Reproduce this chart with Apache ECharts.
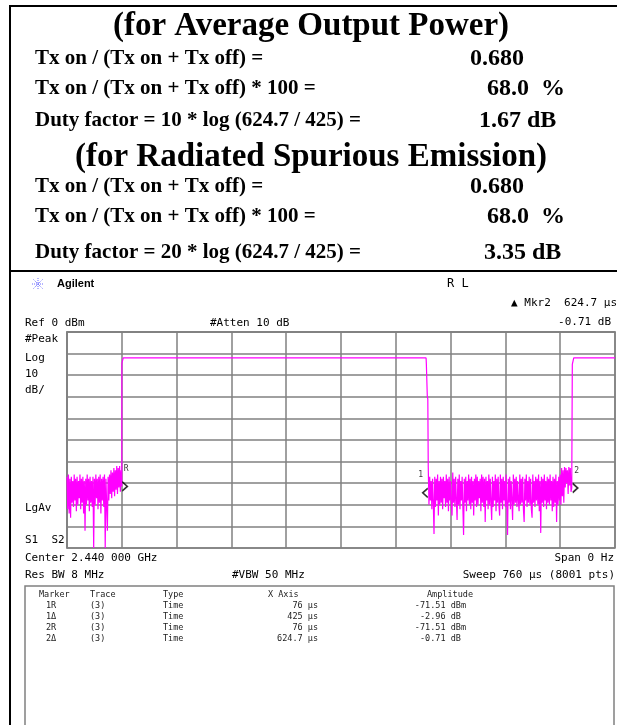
<!DOCTYPE html>
<html><head><meta charset="utf-8">
<script src="https://cdn.jsdelivr.net/npm/echarts@6/dist/echarts.min.js"></script>
<style>html,body{margin:0;padding:0;background:#fff}#c{width:617px;height:725px}</style>
</head><body><div id="c"></div>
<script>
// ---- axis settings (time sweep, log amplitude) ----
const sweepUs = [0, 760];          // x range, microseconds
const timeDivUs = 76;              // 10 divisions
const ampRange = [-100, 0];        // dBm, Ref 0 dBm, 10 dB/div
const ampDiv = 10;

// ---- trace: Tx off noise, first burst gap (0..76 us, 1 us steps), dBm ----
const offNoise1Start = 0;
const offNoise1 = [
  -67,-82,-66,-84,-68,-86,-67,-79,-69,-81,
  -66,-78,-68,-83,-67,-80,-69,-77,-66,-82,
  -68,-79,-67,-84,-69,-92,-68,-80,-66,-78,
  -68,-83,-67,-79,-69,-81,-67,-100,-68,-80,
  -66,-77,-68,-82,-67,-79,-66,-84,-68,-78,
  -67,-81,-66,-100,-68,-80,-92,-67,-78,-66,
  -75,-64,-77,-65,-74,-63,-76,-64,-73,-62,
  -75,-63,-72,-62,-74,-64,-71.5
];
// rising edge, Tx on plateau and falling edge [us, dBm]
const burstEdge1 = [
  [76.1,-14.5],[77.6,-14.3],[78,-12],[498,-12],[498.4,-15],[499.4,-15.5],[499.7,-30],[500.4,-31]
];
// ---- trace: Tx off noise, second gap (501..700 us, 1 us steps), dBm ----
const offNoise2Start = 501;
const offNoise2 = [
  -62.5,-80,-67,-78,-69,-82,-68,-79,-93.5,-67,
  -81,-68,-78,-66,-85,-69,-80,-67,-79,-68,
  -82,-67,-77,-69,-81,-66,-79,-68,-83,-67,
  -78,-69,-80,-85,-65,-79,-68,-81,-67,-78,
  -87,-68,-80,-66,-82,-69,-78,-67,-81,-94,
  -68,-79,-67,-83,-69,-78,-66,-80,-68,-82,
  -67,-79,-69,-85,-68,-78,-66,-81,-67,-80,
  -69,-77,-68,-83,-66,-79,-67,-81,-68,-88,
  -67,-78,-69,-82,-66,-80,-68,-79,-87,-67,
  -81,-69,-78,-66,-83,-68,-79,-67,-80,-85,
  -66,-79,-68,-82,-67,-78,-69,-81,-66,-80,
  -94,-68,-79,-67,-82,-69,-78,-87,-66,-80,
  -68,-79,-67,-81,-69,-78,-83,-66,-80,-68,
  -79,-67,-82,-88,-68,-78,-66,-81,-69,-79,
  -67,-80,-68,-82,-86,-66,-79,-69,-81,-67,
  -78,-68,-80,-66,-83,-69,-93,-67,-79,-68,
  -81,-66,-78,-69,-82,-67,-79,-68,-80,-66,
  -78,-69,-83,-67,-81,-68,-79,-66,-88,-69,
  -80,-67,-78,-66,-80,-63,-76,-64,-79,-62.5,
  -72,-63,-70,-64,-75,-62.5,-71,-63,-74,-72.2
];
// second rising edge and Tx on to end of sweep [us, dBm]
const burstEdge2 = [[700.8,-15],[702.4,-14.6],[702.8,-12],[760,-12]];

// ---- markers ----
const markerNames = ['R', '1', '2'];
const markerTimes = [76, 501, 700.7];
const markerLevels = [-71.51, -74.47, -72.22];
const markerDirs = ['right', 'left', 'right'];

// ---- marker table ----
const tableHeader = ['Marker', 'Trace', 'Type', 'X Axis', 'Amplitude'];
const tableMarker = ['1R', '1\u0394', '2R', '2\u0394'];
const tableTrace = ['(3)', '(3)', '(3)', '(3)'];
const tableType = ['Time', 'Time', 'Time', 'Time'];
const tableX = ['76 \u03bcs', '425 \u03bcs', '76 \u03bcs', '624.7 \u03bcs'];
const tableAmp = ['-71.51 dBm', '-2.96 dB ', '-71.51 dBm', '-0.71 dB '];

// ---- duty cycle text ----
const titles = ['(for Average Output Power)', '(for Radiated Spurious Emission)'];
const labelsA = ['Tx on / (Tx on + Tx off) =', 'Tx on / (Tx on + Tx off) * 100 =', 'Duty factor = 10 * log (624.7 / 425) ='];
const labelsB = ['Tx on / (Tx on + Tx off) =', 'Tx on / (Tx on + Tx off) * 100 =', 'Duty factor = 20 * log (624.7 / 425) ='];
const valuesA = ['0.680', '68.0  %', '1.67 dB'];
const valuesB = ['0.680', '68.0  %', '3.35 dB'];

// build trace
const trace = [];
offNoise1.forEach((v, i) => trace.push([offNoise1Start + i, v]));
burstEdge1.forEach(p => trace.push(p));
offNoise2.forEach((v, i) => trace.push([offNoise2Start + i, v]));
burstEdge2.forEach(p => trace.push(p));

const SERIF = '"Liberation Serif", "Times New Roman", serif';
const MONO = '"DejaVu Sans Mono", monospace';
function T(text, x, y, font, align, fill) {
  return { type: 'text', x: x, y: y, silent: true,
    style: { text: text, font: font, fill: fill || '#000',
      align: align || 'left', textAlign: align || 'left',
      verticalAlign: 'middle', textVerticalAlign: 'middle' } };
}
function L(x1, y1, x2, y2, w, c) {
  return { type: 'line', silent: true, shape: { x1, y1, x2, y2 }, style: { stroke: c || '#000', lineWidth: w } };
}

const g = [];
// frame
g.push(L(10, 6, 617, 6, 2));
g.push(L(10, 5, 10, 725, 2));
g.push(L(10, 271, 617, 271, 2));
// top text section
const titleFont = 'bold 33px ' + SERIF;
const labelFont = 'bold 21px ' + SERIF;
const valueFont = 'bold 24px ' + SERIF;
const secY = [[26, 59, 89, 121], [157, 187, 217, 253]];
[[titles[0], labelsA, valuesA], [titles[1], labelsB, valuesB]].forEach((sec, s) => {
  g.push(T(sec[0], 311, secY[s][0], titleFont, 'center'));
  sec[1].forEach((t, i) => g.push(T(t, 35, secY[s][i + 1], labelFont)));
  g.push(T(sec[2][0], 470, secY[s][1], valueFont));
  g.push(T(sec[2][1], 487, secY[s][2], valueFont));
  g.push(T(sec[2][2], s === 0 ? 479 : 484, secY[s][3], valueFont));
});
// Agilent logo star
const sx = 38, sy = 284;
[[-6,0,6,0],[0,-6,0,6],[-4.5,-4.5,4.5,4.5],[-4.5,4.5,4.5,-4.5]].forEach(a => {
  g.push({ type: 'line', silent: true, shape: { x1: sx + a[0], y1: sy + a[1], x2: sx + a[2], y2: sy + a[3] },
    style: { stroke: '#6a6aff', lineWidth: 1, lineDash: [1, 1] } });
});
g.push(T('Agilent', 57, 284, 'bold 11px "Liberation Sans", Arial, sans-serif'));
g.push(T('R L', 447, 284, '12px ' + MONO));
g.push(T('\u25B2 Mkr2  624.7 \u03bcs', 617, 303, '11px ' + MONO, 'right'));
g.push(T('-0.71 dB', 611, 322, '11px ' + MONO, 'right'));
g.push(T('Ref 0 dBm', 25, 323, '11px ' + MONO));
g.push(T('#Atten 10 dB', 210, 323, '11px ' + MONO));
['#Peak', 'Log', '10', 'dB/'].forEach((t, i) => g.push(T(t, 25, [339, 358, 374, 390][i], '11px ' + MONO)));
g.push(T('LgAv', 25, 508, '11px ' + MONO));
g.push(T('S1  S2', 25, 540, '11px ' + MONO));
g.push(T('Center 2.440 000 GHz', 25, 558, '11px ' + MONO));
g.push(T('Span 0 Hz', 614, 558, '11px ' + MONO, 'right'));
g.push(T('Res BW 8 MHz', 25, 575, '11px ' + MONO));
g.push(T('#VBW 50 MHz', 232, 575, '11px ' + MONO));
g.push(T('Sweep 760 \u03bcs (8001 pts)', 615, 575, '11px ' + MONO, 'right'));
// marker table
g.push({ type: 'rect', silent: true, shape: { x: 25, y: 586, width: 589, height: 160 },
  style: { fill: 'none', stroke: '#808080', lineWidth: 1.5 } });
const tf = '8.5px ' + MONO, tc = '#222';
const hx = [39, 90, 163, 268, 427];
tableHeader.forEach((t, i) => g.push(T(t, hx[i], 595, tf, 'left', tc)));
const rowY = [606, 617, 628, 639];
for (let r = 0; r < 4; r++) {
  g.push(T(tableMarker[r], 46, rowY[r], tf, 'left', tc));
  g.push(T(tableTrace[r], 90, rowY[r], tf, 'left', tc));
  g.push(T(tableType[r], 163, rowY[r], tf, 'left', tc));
  g.push(T(tableX[r], 318, rowY[r], tf, 'right', tc));
  g.push(T(tableAmp[r], 466, rowY[r], tf, 'right', tc));
}

const chevRight = 'path://M0,0L6,5L0,10';
const chevLeft = 'path://M6,0L0,5L6,10';
const markerData = markerTimes.map((t, i) => ({
  value: [t, markerLevels[i]],
  symbol: markerDirs[i] === 'right' ? chevRight : chevLeft,
  symbolOffset: [markerDirs[i] === 'right' ? 3 : -3, 0],
  label: { show: true, formatter: markerNames[i], position: [markerDirs[i] === 'right' ? 2 : -4, -16],
    fontSize: 8, fontFamily: 'DejaVu Sans Mono', color: '#000' }
}));

const chart = echarts.init(document.getElementById('c'), null, { renderer: 'canvas' });
chart.setOption({
  animation: false,
  backgroundColor: '#fff',
  grid: { left: 67, top: 332, width: 548, height: 216, show: true, borderColor: '#808080', borderWidth: 1.5 },
  xAxis: { type: 'value', min: sweepUs[0], max: sweepUs[1], interval: timeDivUs,
    axisLabel: { show: false }, axisTick: { show: false },
    axisLine: { show: true, lineStyle: { color: '#808080', width: 1.5 } },
    splitLine: { show: true, lineStyle: { color: '#808080', width: 1.5 } } },
  yAxis: { type: 'value', min: ampRange[0], max: ampRange[1], interval: ampDiv,
    axisLabel: { show: false }, axisTick: { show: false },
    axisLine: { show: true, lineStyle: { color: '#808080', width: 1.5 } },
    splitLine: { show: true, lineStyle: { color: '#808080', width: 1.5 } } },
  series: [
    { type: 'line', data: trace, showSymbol: false, symbol: 'none', silent: true,
      lineStyle: { color: '#ff00ff', width: 1.2 } },
    { type: 'scatter', data: markerData, symbolSize: [5, 9], silent: true, z: 5,
      itemStyle: { color: 'rgba(0,0,0,0)', borderColor: '#000', borderWidth: 1.5 } }
  ],
  graphic: g
});
</script></body></html>
